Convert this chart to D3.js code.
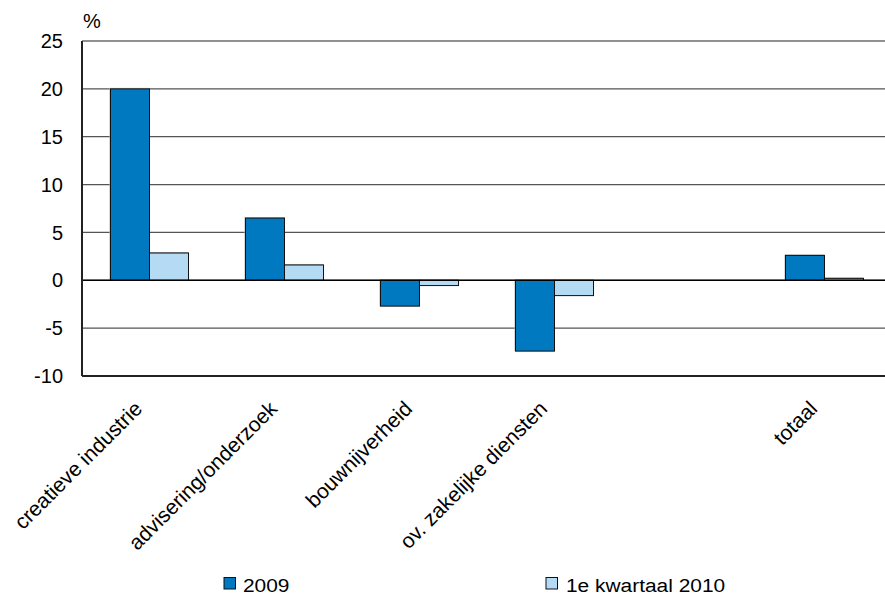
<!DOCTYPE html>
<html><head><meta charset="utf-8">
<script src="https://cdn.jsdelivr.net/npm/d3@7"></script>
<style>body{margin:0;background:#fff}svg{display:block}text{font-family:"Liberation Sans",Arial,sans-serif;fill:#000}</style>
</head><body><svg id="c" width="885" height="594"></svg>
<script>
const categories = ["creatieve industrie","advisering/onderzoek","bouwnijverheid","ov. zakelijke diensten","","totaal"];
const series = ["2009","1e kwartaal 2010"];
const values2009 = [20, 6.5, -2.7, -7.4, null, 2.6];
const values2010 = [2.85, 1.6, -0.55, -1.6, null, 0.2];
const yTicks = [-10,-5,0,5,10,15,20,25];
const colors = ["#0079C1","#B5DAF4"];

const svg = d3.select("#c");
const L = 82, R = 892, T = 41, B = 376;
const x = d3.scaleBand().domain(d3.range(categories.length)).range([L,R]).paddingInner(0.422).paddingOuter(0.211);
const xs = d3.scaleBand().domain([0,1]).range([0,x.bandwidth()]);
const y = d3.scaleLinear().domain([-10,25]).range([B,T]);

// grid
svg.append("g").selectAll("line").data(yTicks).join("line")
  .attr("x1",L).attr("x2",R).attr("y1",d=>y(d)).attr("y2",d=>y(d))
  .attr("stroke",d=>d===25?"#222":"#555").attr("stroke-width",1.2);

// bars
const data = [];
categories.forEach((c,i)=>{[values2009,values2010].forEach((arr,s)=>{ if(arr[i]!=null) data.push({i,s,v:arr[i]}); });});
const g = svg.append("g");
g.selectAll("rect.sh").data(data).join("rect")
  .attr("x",d=>x(d.i)+xs(d.s)-1).attr("y",d=>Math.min(y(d.v),y(0))-1)
  .attr("width",xs.bandwidth()+1).attr("height",d=>Math.abs(y(d.v)-y(0))+1)
  .attr("fill","#bbb");
g.selectAll("rect.b").data(data).join("rect")
  .attr("x",d=>x(d.i)+xs(d.s)).attr("y",d=>Math.min(y(d.v),y(0)))
  .attr("width",xs.bandwidth()).attr("height",d=>Math.abs(y(d.v)-y(0)))
  .attr("fill",d=>colors[d.s]).attr("stroke","#111").attr("stroke-width",1);

// zero line and frame
svg.append("line").attr("x1",L).attr("x2",R).attr("y1",y(0)).attr("y2",y(0)).attr("stroke","#000").attr("stroke-width",1.5);
svg.append("line").attr("x1",L).attr("x2",R).attr("y1",B).attr("y2",B).attr("stroke","#222").attr("stroke-width",2);
svg.append("line").attr("x1",L).attr("x2",L).attr("y1",T).attr("y2",B).attr("stroke","#222").attr("stroke-width",2);

// y labels
svg.append("g").selectAll("text").data(yTicks).join("text")
  .attr("x",63).attr("y",d=>y(d)).attr("dy","0.36em").attr("text-anchor","end")
  .attr("font-size",20).text(d=>d);
svg.append("text").attr("x",83).attr("y",28).attr("font-size",20).text("%");

// x labels
svg.append("g").selectAll("text").data(categories.map((c,i)=>({c,i})).filter(d=>d.c)).join("text")
  .attr("transform",d=>`translate(${x(d.i)+x.bandwidth()/2-6},${410}) rotate(-45)`)
  .attr("text-anchor","end").attr("font-size",21).text(d=>d.c);

// legend
const leg = [{s:0,x:224,tx:243},{s:1,x:546,tx:566}];
leg.forEach(l=>{
  svg.append("rect").attr("x",l.x).attr("y",577.5).attr("width",11.5).attr("height",11.5).attr("fill",colors[l.s]).attr("stroke","#111").attr("stroke-width",1);
  svg.append("text").attr("transform",`translate(${l.tx},591.5) scale(1.1,1)`).attr("font-size",19).text(series[l.s]);
});
</script></body></html>
